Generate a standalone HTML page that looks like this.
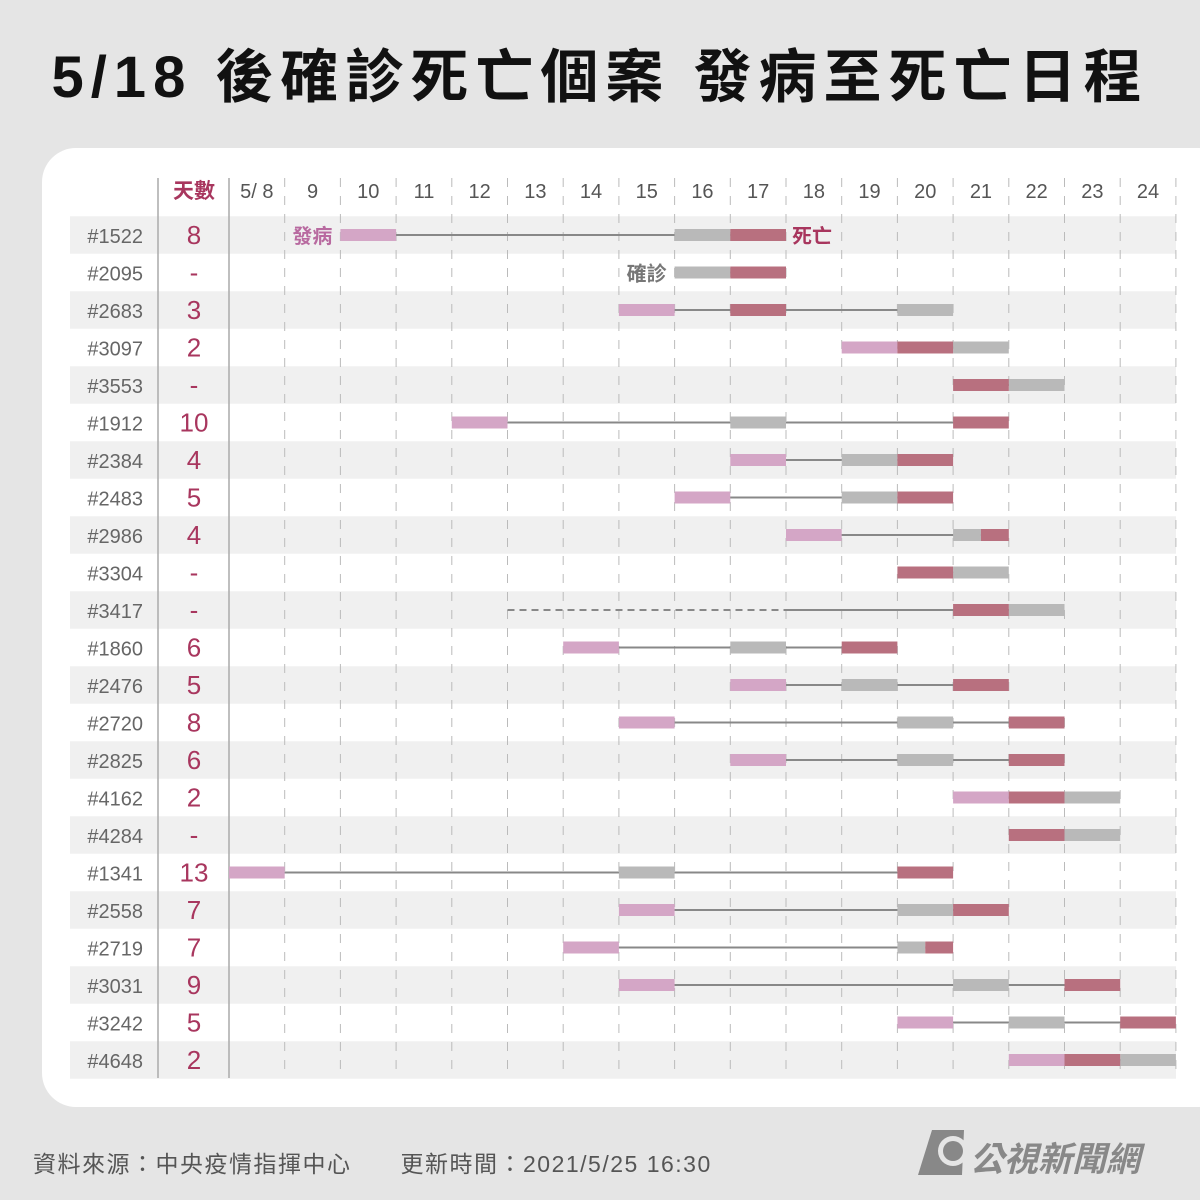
<!DOCTYPE html>
<html><head><meta charset="utf-8">
<style>
body{margin:0;width:1200px;height:1200px;background:#e5e5e5;font-family:"Liberation Sans","Noto Sans CJK TC",sans-serif;overflow:hidden;position:relative}
#title{position:absolute;left:0;top:30px;width:1200px;text-align:center;font-size:58px;font-weight:bold;color:#111;font-family:"Liberation Sans","Noto Sans CJK TC",sans-serif;letter-spacing:7px}
#panel{position:absolute;left:42px;top:148px;width:1190px;height:959px;background:#fff;border-radius:34px}
svg{position:absolute;left:0;top:0}
#footer{position:absolute;left:33px;top:1145px;font-size:23px;color:#555;letter-spacing:1.5px}
#logo{position:absolute;left:918px;top:1125px}
</style></head><body>
<div id="title">5/18 後確診死亡個案 發病至死亡日程</div>
<div id="panel"></div>
<svg id="chart" width="1200" height="1200"></svg>
<div id="footer">資料來源：中央疫情指揮中心　　更新時間：2021/5/25 16:30</div>
<svg id="logo" width="240" height="60">
<polygon points="14,5 46,5 44,50 0,50" fill="#888"/>
<circle cx="35" cy="26" r="15" fill="#e5e5e5"/><circle cx="35" cy="26" r="10" fill="#888"/>
<text x="52" y="46" font-size="34" font-weight="bold" font-style="italic" fill="#888" font-family="Liberation Sans,Noto Sans CJK TC,sans-serif">公視新聞網</text>
</svg>
<script>
const cases=["#1522","#2095","#2683","#3097","#3553","#1912","#2384","#2483","#2986","#3304","#3417","#1860","#2476","#2720","#2825","#4162","#4284","#1341","#2558","#2719","#3031","#3242","#4648"];
const daysLabel=["8","-","3","2","-","10","4","5","4","-","-","6","5","8","6","2","-","13","7","7","9","5","2"];
const onset=[10,null,15,19,null,12,17,16,18,null,null,14,17,15,17,21,null,8,15,14,15,20,22];
const confirm=[16,16,20,21,22,17,19,19,21,21,22,17,19,20,20,23,23,15,20,20,21,22,24];
const death=[17,17,17,20,21,21,20,20,21,20,21,19,21,22,22,22,22,20,21,20,23,24,23];
const dashedFrom=[null,null,null,null,null,null,null,null,null,null,13,null,null,null,null,null,null,null,null,null,null,null,null];
const dashedTo=[null,null,null,null,null,null,null,null,null,null,18,null,null,null,null,null,null,null,null,null,null,null,null];
const dayTicks=["5/ 8","9","10","11","12","13","14","15","16","17","18","19","20","21","22","23","24"];

const svg=document.getElementById('chart');const NS='http://www.w3.org/2000/svg';
const X0=229,CW=55.7,Y0=235,RH=37.5;
const xs=d=>X0+(d-8)*CW;
const ys=i=>Y0+i*RH;
function el(t,a,parent){const e=document.createElementNS(NS,t);for(const k in a)e.setAttribute(k,a[k]);(parent||svg).appendChild(e);return e;}
const PINK='#d4a6c6',GRAY='#b9b9b9',ROSE='#b8707f',RED='#a8365e';
cases.forEach((c,i)=>{if(i%2==0){
const r=el('rect',{x:70,y:ys(i)-RH/2,width:1106,height:RH,fill:'#f0f0f0'});

}});
for(let k=1;k<=17;k++){
const l=el('line',{x1:X0+k*CW,x2:X0+k*CW,y1:178,y2:1078,stroke:'#bbb','stroke-width':1,'stroke-dasharray':'9,9'});

}
[158,229].forEach(x=>{const l=el('line',{x1:x,x2:x,y1:178,y2:1078,stroke:'#aaa','stroke-width':1.5});

});
dayTicks.forEach((t,k)=>{const tx=el('text',{x:X0+(k+0.5)*CW,y:198,'text-anchor':'middle','font-size':20,fill:'#555'});tx.textContent=t;

});
const hd=el('text',{x:194,y:198,'text-anchor':'middle','font-size':21,'font-weight':'bold',fill:RED});hd.textContent='天數';


cases.forEach((c,i)=>{const y=ys(i);
const t=el('text',{x:143,y:y+8,'text-anchor':'end','font-size':20,fill:'#666'});t.textContent=c;


const d=el('text',{x:194,y:y+9,'text-anchor':'middle','font-size':26,fill:RED});d.textContent=daysLabel[i];


const ds=[onset[i],confirm[i],death[i]].filter(v=>v!=null);
const lo=Math.min(...ds),hi=Math.max(...ds);
if(dashedFrom[i]!=null){const dl=el('line',{x1:xs(dashedFrom[i]),x2:xs(dashedTo[i]),y1:y,y2:y,stroke:'#888','stroke-width':2,'stroke-dasharray':'7,5'});


const sl=el('line',{x1:xs(dashedTo[i]),x2:xs(lo)+CW/2,y1:y,y2:y,stroke:'#888','stroke-width':2});

}
const ln=el('line',{x1:xs(lo)+CW/2,x2:xs(hi)+CW/2,y1:y,y2:y,stroke:'#888','stroke-width':2});


if(onset[i]!=null){const b=el('rect',{x:xs(onset[i]),y:y-6,width:CW,height:12,fill:PINK});

}
const same=confirm[i]===death[i];
const cb=el('rect',{x:xs(confirm[i]),y:y-6,width:same?CW/2:CW,height:12,fill:GRAY});


const db=el('rect',{x:xs(death[i])+(same?CW/2:0),y:y-6,width:same?CW/2:CW,height:12,fill:ROSE});


});
const a1=el('text',{x:xs(onset[0])-8,y:ys(0)+8,'text-anchor':'end','font-size':20,'font-weight':'bold',fill:'#b86aa0'});a1.textContent='發病';


const a2=el('text',{x:xs(death[0])+CW+6,y:ys(0)+8,'font-size':20,'font-weight':'bold',fill:RED});a2.textContent='死亡';


const a3=el('text',{x:xs(confirm[1])-8,y:ys(1)+8,'text-anchor':'end','font-size':20,'font-weight':'bold',fill:'#777'});a3.textContent='確診';


</script>
</body></html>
